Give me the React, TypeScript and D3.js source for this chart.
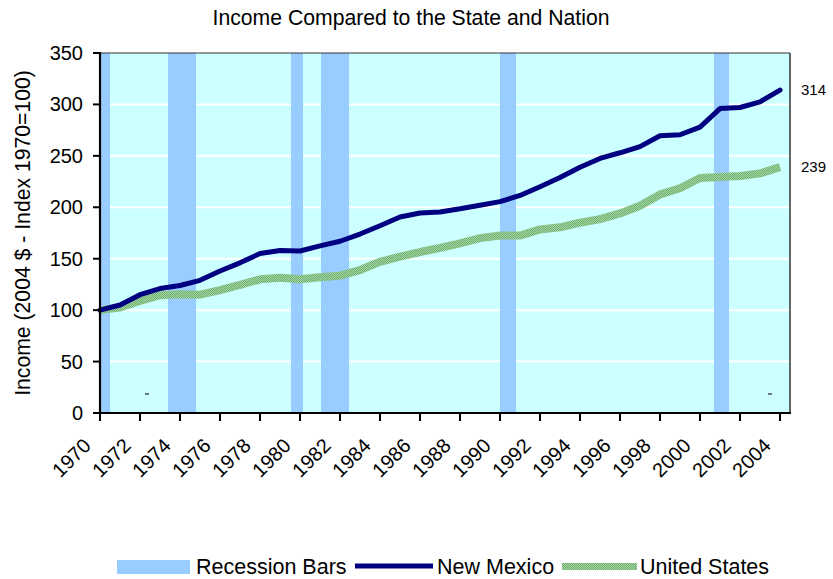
import React from "react";
import * as d3 from "d3";

const years = d3.range(1970, 2005);
const newMexico = [100, 105, 115, 121, 124, 129, 138, 146, 155, 158, 157.5, 162.5, 167, 174, 182, 190.5, 194.5, 195.5, 198.5, 202, 205.5, 211.5, 220, 229, 239, 247.5, 253, 259, 269.5, 270.5, 278, 296, 297, 302.5, 314];
const unitedStates = [100, 102.5, 109, 114.5, 115.5, 115, 119.5, 124.5, 130, 131.5, 130, 132, 133.5, 139, 147, 152, 156.5, 160.5, 165, 170, 172.5, 172.5, 178.5, 180.5, 185, 188.5, 194, 201.5, 212.5, 218.5, 228.5, 229.5, 230.5, 233, 239];
const recessionStart = [1970, 1973.4, 1979.55, 1981.05, 1990, 2000.7];
const recessionEnd = [1970.5, 1974.8, 1980.15, 1982.45, 1990.8, 2001.45];
const yTicks = [0, 50, 100, 150, 200, 250, 300, 350];
const xTickYears = d3.range(1970, 2005, 2);
const dashMarks = [1972.35, 2003.5];
const dashValue = 18.5;

const W = 833, H = 579;
const L = 100, R = 790, T = 53, B = 413;
const font = "'Liberation Sans', Arial, sans-serif";

export default function App() {
  const x = d3.scaleLinear().domain([1970, 2004]).range([100, 780]);
  const y = d3.scaleLinear().domain([0, 350]).range([B, T]);
  const line = d3.line<number>().x((_, i) => x(years[i])).y((d) => y(d));
  return (
    <svg width={W} height={H} style={{ position: "absolute", left: 0, top: 0 }} fontFamily={font}>
      <defs>
        <pattern id="usPat" patternUnits="userSpaceOnUse" width={2} height={2}>
          <rect width={2} height={2} fill="#A6D6A6" />
          <rect width={1} height={1} fill="#6DAF6D" />
          <rect x={1} y={1} width={1} height={1} fill="#6DAF6D" />
        </pattern>
      </defs>
      <rect x={0} y={0} width={W} height={H} fill="#fff" />
      <text x={411} y={25} textAnchor="middle" fontSize={21.2} fill="#000">Income Compared to the State and Nation</text>
      <rect x={L} y={T} width={R - L} height={B - T} fill="#CCFFFF" />
      {yTicks.filter((t) => t > 0 && t < 350).map((t) => (
        <line key={t} x1={L} x2={R} y1={y(t)} y2={y(t)} stroke="#fff" strokeWidth={2} />
      ))}
      {recessionStart.map((s, i) => (
        <rect key={i} x={x(s)} y={T} width={x(recessionEnd[i]) - x(s)} height={B - T} fill="#99CCFF" />
      ))}
      {dashMarks.map((d, i) => (
        <line key={i} x1={x(d) - 2} x2={x(d) + 2} y1={y(dashValue)} y2={y(dashValue)} stroke="#333" strokeWidth={1.3} />
      ))}
      <path d={line(unitedStates) || ""} fill="none" stroke="url(#usPat)" strokeWidth={8} strokeLinejoin="round" />
      <path d={line(newMexico) || ""} fill="none" stroke="#000080" strokeWidth={5} strokeLinejoin="round" strokeLinecap="round" />
      <line x1={L} x2={R} y1={T} y2={T} stroke="#333" strokeWidth={1.2} />
      <line x1={R} x2={R} y1={T} y2={B} stroke="#333" strokeWidth={1.5} />
      <line x1={L} x2={L} y1={T - 1} y2={B + 1} stroke="#000" strokeWidth={2.2} />
      <line x1={L - 1} x2={R + 1} y1={B} y2={B} stroke="#000" strokeWidth={2.2} />
      {yTicks.map((t) => (
        <g key={t}>
          <line x1={L - 7} x2={L} y1={y(t)} y2={y(t)} stroke="#000" strokeWidth={2} />
          <text x={83} y={y(t) + 7} textAnchor="end" fontSize={20} fill="#000">{t}</text>
        </g>
      ))}
      {xTickYears.map((yr) => (
        <g key={yr}>
          <line x1={x(yr)} x2={x(yr)} y1={B} y2={B + 8} stroke="#000" strokeWidth={2} />
          <text transform={`translate(${x(yr) - 8},${B + 34}) rotate(-45)`} textAnchor="end" fontSize={20} fill="#000">{yr}</text>
        </g>
      ))}
      <text transform="translate(29.5,233) rotate(-90)" textAnchor="middle" fontSize={21.2} fill="#000">Income (2004 $ - Index 1970=100)</text>
      <text x={x(2004) + 21} y={y(newMexico[newMexico.length - 1]) + 5} fontSize={15} fill="#000">{newMexico[newMexico.length - 1]}</text>
      <text x={x(2004) + 21} y={y(unitedStates[unitedStates.length - 1]) + 5} fontSize={15} fill="#000">{unitedStates[unitedStates.length - 1]}</text>
      <rect x={117} y={560} width={73} height={14} fill="#99CCFF" />
      <text x={196} y={574} fontSize={21.5} fill="#000">Recession Bars</text>
      <line x1={355} x2={433} y1={566} y2={566} stroke="#000080" strokeWidth={5} />
      <text x={437} y={574} fontSize={21.5} fill="#000">New Mexico</text>
      <rect x={562} y={563} width={75} height={7} fill="url(#usPat)" />
      <text x={640} y={574} fontSize={21.5} fill="#000">United States</text>
    </svg>
  );
}
